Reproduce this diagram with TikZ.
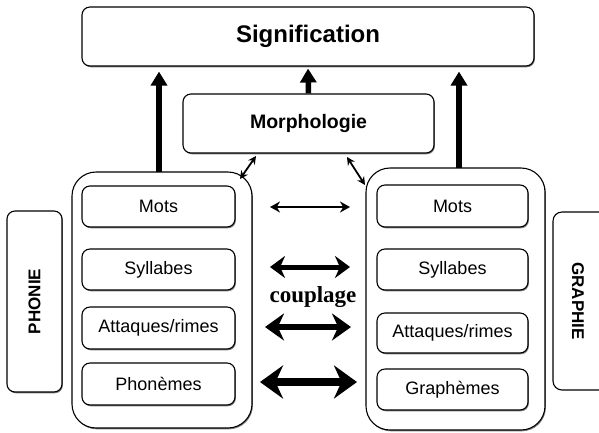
\documentclass[tikz,border=0pt]{standalone}
\usepackage{fontspec}
\setmainfont{Liberation Sans}
\newfontfamily\couplagefont{Liberation Serif}
\usetikzlibrary{arrows.meta,shadows}
\begin{document}
\begin{tikzpicture}[x=1pt,y=-1pt,
  shad/.style={drop shadow={shadow xshift=0.9pt,shadow yshift=-1.3pt,fill=black!50,opacity=1}},
  box/.style={draw=black,line width=1.1pt,rounded corners=8pt,fill=white,inner sep=0pt,shad},
  cont/.style={draw=black,line width=1.1pt,rounded corners=24pt,fill=white,inner sep=0pt,shad},
  inbox/.style={box,font=\fontsize{18}{18}\selectfont},
  sidelbl/.style={font=\bfseries\fontsize{17}{17}\selectfont,inner sep=0pt},
  uparrow/.style={line width=5.5pt,-{Triangle[length=14pt,width=16pt]}},
  diagarrow/.style={line width=1.8pt,{Stealth[length=8pt,width=8pt]}-{Stealth[length=8pt,width=8pt]}},
]
\useasboundingbox (0,0) rectangle (599,432);
% top boxes
\node[box,minimum width=452pt,minimum height=59pt,font=\bfseries\fontsize{24}{24}\selectfont] (sig) at (308,36.5) {Signification};
\node[box,minimum width=251pt,minimum height=59pt,font=\bfseries\fontsize{19.5}{19.5}\selectfont] (morph) at (308.5,123.5) {Morphologie};
% containers
\node[cont,minimum width=180pt,minimum height=256pt] (lc) at (162,300) {};
\node[cont,minimum width=179pt,minimum height=262pt] (rc) at (455.5,299) {};
% left inner boxes
\node[inbox,minimum width=153pt,minimum height=41pt] (lmots) at (158.5,206.5) {Mots};
\node[inbox,minimum width=153pt,minimum height=41pt] (lsyl) at (158.5,269.5) {Syllabes};
\node[inbox,minimum width=153pt,minimum height=42pt] (latt) at (158.5,328) {Attaques/rimes};
\node[inbox,minimum width=153pt,minimum height=42pt] (lpho) at (158.5,384) {Phonèmes};
% right inner boxes
\node[inbox,minimum width=151pt,minimum height=42pt] (rmots) at (452.5,206) {Mots};
\node[inbox,minimum width=151pt,minimum height=41pt] (rsyl) at (452.5,269.5) {Syllabes};
\node[inbox,minimum width=151pt,minimum height=40pt] (ratt) at (452.5,333) {Attaques/rimes};
\node[inbox,minimum width=151pt,minimum height=41pt] (rgra) at (452.5,389.5) {Graphèmes};
% side boxes
\node[box,minimum width=55pt,minimum height=181pt] (phb) at (34.5,301.5) {};
\node[sidelbl,rotate=90] (phonie) at (phb.center) {PHONIE};
\draw[line width=1.1pt,rounded corners=9pt] (599,212) -- (553,212) -- (553,390) -- (599,390);
\node[sidelbl,rotate=-90] (graphie) at (578,301) {GRAPHIE};
% vertical arrows
\coordinate (la) at (159,172);
\coordinate (ra) at (459,168);
\draw[uparrow,shorten >=5pt] (la) -- (la |- sig.south);
\draw[uparrow,shorten >=5pt] (ra) -- (ra |- sig.south);
\draw[uparrow,shorten >=2pt] (morph.north) -- (sig.south);
% diagonal arrows
\coordinate (d1a) at (240,179);
\coordinate (d1b) at (256,156);
\coordinate (d2a) at (347,157);
\coordinate (d2b) at (365,185);
\draw[diagarrow] (d1a) -- (d1b);
\draw[diagarrow] (d2a) -- (d2b);
% coupling arrows
\coordinate (c1a) at (270,207); \coordinate (c1b) at (350,207);
\coordinate (c2a) at (270,267); \coordinate (c2b) at (350,267);
\coordinate (c3a) at (265,327); \coordinate (c3b) at (351,327);
\coordinate (c4a) at (260,382); \coordinate (c4b) at (357,382);
\draw[line width=2pt,{Stealth[length=10pt,width=11pt]}-{Stealth[length=10pt,width=11pt]}] (c1a) -- (c1b);
\draw[line width=5pt,{Stealth[length=15pt,width=22pt]}-{Stealth[length=15pt,width=22pt]}] (c2a) -- (c2b);
\draw[line width=6.5pt,{Stealth[length=19pt,width=27pt]}-{Stealth[length=19pt,width=27pt]}] (c3a) -- (c3b);
\draw[line width=8pt,{Stealth[length=23pt,width=33pt]}-{Stealth[length=23pt,width=33pt]}] (c4a) -- (c4b);
\node[font=\couplagefont\bfseries\fontsize{23}{23}\selectfont,inner sep=0pt] (coupl) at (313,297) {couplage};
\end{tikzpicture}
\end{document}
